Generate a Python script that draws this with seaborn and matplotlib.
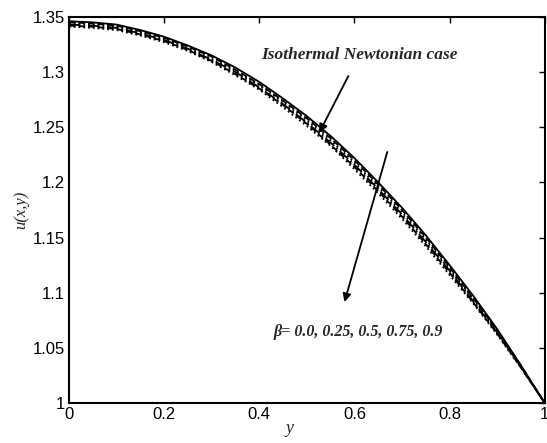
import matplotlib
matplotlib.use("Agg")
import matplotlib.pyplot as plt
import seaborn as sns
import pandas as pd

sns.set_theme(style="white")
plt.rcParams['font.family'] = ['Liberation Sans', 'DejaVu Sans']

# velocity profiles
y_pos = [0.0, 0.05, 0.1, 0.15, 0.2, 0.25, 0.3, 0.35, 0.4, 0.45, 0.5,
         0.55, 0.6, 0.65, 0.7, 0.75, 0.8, 0.85, 0.9, 0.95, 1.0]
u_newton = [1.346, 1.345, 1.343, 1.338, 1.332, 1.324, 1.315, 1.304, 1.291, 1.276, 1.260,
            1.242, 1.222, 1.200, 1.177, 1.152, 1.125, 1.097, 1.067, 1.034, 1.0]
u_b000 = [1.345, 1.344, 1.342, 1.337, 1.331, 1.323, 1.314, 1.302, 1.289, 1.274, 1.258,
          1.240, 1.220, 1.198, 1.175, 1.150, 1.123, 1.095, 1.066, 1.034, 1.0]
u_b025 = [1.344, 1.343, 1.341, 1.336, 1.330, 1.322, 1.312, 1.301, 1.288, 1.273, 1.256,
          1.238, 1.218, 1.196, 1.173, 1.148, 1.121, 1.094, 1.065, 1.033, 1.0]
u_b050 = [1.343, 1.342, 1.340, 1.335, 1.329, 1.321, 1.311, 1.300, 1.286, 1.271, 1.254,
          1.236, 1.216, 1.194, 1.171, 1.146, 1.120, 1.092, 1.064, 1.033, 1.0]
u_b075 = [1.342, 1.341, 1.339, 1.334, 1.328, 1.320, 1.310, 1.298, 1.285, 1.270, 1.253,
          1.234, 1.214, 1.192, 1.169, 1.144, 1.118, 1.091, 1.063, 1.032, 1.0]
u_b090 = [1.341, 1.340, 1.338, 1.333, 1.327, 1.319, 1.309, 1.297, 1.284, 1.268, 1.251,
          1.233, 1.212, 1.190, 1.167, 1.142, 1.116, 1.090, 1.062, 1.032, 1.0]

curves = {
    'newton': u_newton, 'b0.0': u_b000, 'b0.25': u_b025,
    'b0.5': u_b050, 'b0.75': u_b075, 'b0.9': u_b090,
}
rows = []
for name, vals in curves.items():
    for yy, uu in zip(y_pos, vals):
        rows.append({'y': yy, 'u': uu, 'case': name})
df = pd.DataFrame(rows)

fig = plt.figure(figsize=(5.47, 4.43), dpi=100)
ax = fig.add_axes([0.126, 0.090, 0.870, 0.872])

styles = {'newton': '-', 'b0.0': '--', 'b0.25': ':', 'b0.5': '-.', 'b0.75': '--', 'b0.9': ':'}
for name in curves:
    sub = df[df['case'] == name]
    sns.lineplot(data=sub, x='y', y='u', ax=ax, color='black', linestyle=styles[name],
                 linewidth=1.3, estimator=None)

ax.set_xlim(0, 1)
ax.set_ylim(1, 1.35)
ax.set_xticks([0, 0.2, 0.4, 0.6, 0.8, 1])
ax.set_xticklabels(['0', '0.2', '0.4', '0.6', '0.8', '1'])
ax.set_yticks([1, 1.05, 1.1, 1.15, 1.2, 1.25, 1.3, 1.35])
ax.set_yticklabels(['1', '1.05', '1.1', '1.15', '1.2', '1.25', '1.3', '1.35'])
ax.tick_params(direction='in', length=4, width=1, color='black', labelsize=12,
               top=True, right=True, pad=3, labelcolor='black')
for sp in ax.spines.values():
    sp.set_color('black')
    sp.set_linewidth(1.5)

ax.set_xlabel('')
ax.set_ylabel('u(x,y)', fontsize=12, family=['Liberation Serif'], style='italic', labelpad=2)
ax.text(0.463, -0.065, 'y', transform=ax.transAxes, fontsize=13,
        family=['Liberation Serif'], style='italic', ha='center', va='center')

ax.annotate('Isothermal Newtonian case', xy=(0.526, 1.245), xytext=(0.610, 1.3155),
            fontsize=12.5, family=['Liberation Serif'], style='italic', weight='bold',
            ha='center', va='center',
            arrowprops=dict(arrowstyle='-|>', color='black', lw=1.3, shrinkA=8, shrinkB=0))
ax.annotate('', xy=(0.579, 1.0916), xytext=(0.669, 1.2276),
            arrowprops=dict(arrowstyle='-|>', color='black', lw=1.3, shrinkA=0, shrinkB=0))
ax.text(0.608, 1.064, '\u03b2= 0.0, 0.25, 0.5, 0.75, 0.9', fontsize=11.5,
        family=['Liberation Serif'], style='italic', weight='bold', ha='center', va='center')

fig.savefig('out.png', dpi=100)
